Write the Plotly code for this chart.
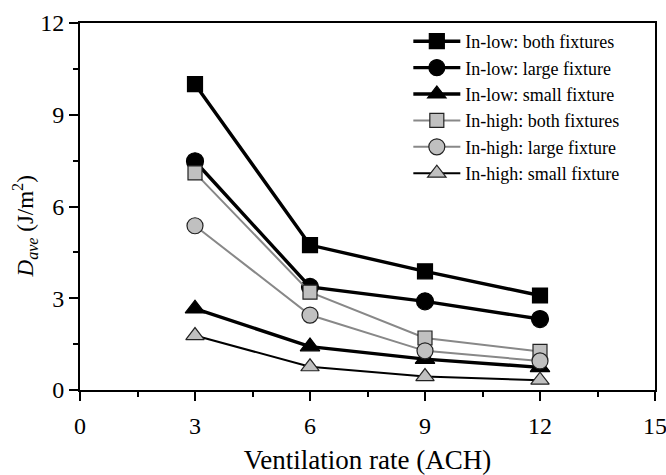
import plotly.graph_objects as go

# Ventilation rates (air changes per hour)
ach = [3, 6, 9, 12]

# Average deposition D_ave (J/m^2) for each inlet position / fixture setup
in_low_both = [10.0, 4.74, 3.88, 3.09]
in_low_large = [7.48, 3.37, 2.90, 2.32]
in_low_small = [2.66, 1.42, 1.01, 0.74]
in_high_both = [7.10, 3.20, 1.70, 1.26]
in_high_large = [5.37, 2.45, 1.28, 0.95]
in_high_small = [1.78, 0.76, 0.44, 0.32]

series_names = [
    "In-low: both fixtures",
    "In-low: large fixture",
    "In-low: small fixture",
    "In-high: both fixtures",
    "In-high: large fixture",
    "In-high: small fixture",
]

x_ticks = [0, 3, 6, 9, 12, 15]
y_ticks = [0, 3, 6, 9, 12]

FONT = "Liberation Serif, Times New Roman, serif"

styles = [
    # (values, symbol, marker fill, marker size, line colour, line width)
    (in_low_both, "square", "black", 15, "black", 3.4),
    (in_low_large, "circle", "black", 17, "black", 3.4),
    (in_low_small, "triangle-up", "black", 17, "black", 3.4),
    (in_high_both, "square", "#c0c0c0", 14, "#888888", 2.0),
    (in_high_large, "circle", "#c0c0c0", 16, "#888888", 2.0),
    (in_high_small, "triangle-up", "#c0c0c0", 16, "black", 2.0),
]

fig = go.Figure()
for name, (vals, sym, fill, size, lcol, lw) in zip(series_names, styles):
    fig.add_trace(go.Scatter(
        x=ach, y=vals, name=name, mode="lines+markers",
        line=dict(color=lcol, width=lw),
        marker=dict(symbol=sym, size=size, color=fill,
                    line=dict(color="#222222" if fill != "black" else "black", width=1.2)),
    ))

axis_common = dict(
    showgrid=False, zeroline=False, automargin=False,
    showline=True, linecolor="black", linewidth=2, mirror=True,
    ticks="outside", ticklen=9, tickwidth=2, tickcolor="black",
    tickfont=dict(family=FONT, size=24, color="black"),
    ticklabeloverflow="allow",
)

fig.update_xaxes(
    range=[0, 15], tickvals=x_ticks, ticklabelstandoff=4,
    minor=dict(dtick=1.5, ticks="outside", ticklen=5, tickwidth=2, tickcolor="black"),
    title=dict(text="Ventilation rate (ACH)", font=dict(family=FONT, size=27, color="black"),
               standoff=12),
    **axis_common,
)
fig.update_yaxes(
    range=[0, 12], tickvals=y_ticks,
    minor=dict(dtick=1.5, ticks="outside", ticklen=5, tickwidth=2, tickcolor="black"),
    **axis_common,
)

# y-axis title, placed slightly below the axis centre
fig.add_annotation(
    text="<i>D</i><sub><i>ave</i></sub> (J/m<sup>2</sup>)",
    xref="paper", yref="paper", x=-0.096, y=0.445,
    xanchor="center", yanchor="middle", textangle=-90, showarrow=False,
    font=dict(family=FONT, size=23, color="black"),
)

fig.update_layout(
    width=666, height=475,
    margin=dict(l=80, r=11, t=23, b=85),
    plot_bgcolor="white", paper_bgcolor="white",
    showlegend=True,
    legend=dict(
        x=0.571, y=1.0, xanchor="left", yanchor="top",
        bgcolor="rgba(0,0,0,0)", borderwidth=0,
        font=dict(family=FONT, size=18, color="black"),
        itemwidth=47, tracegroupgap=0,
    ),
)

fig.write_html("out.html")
